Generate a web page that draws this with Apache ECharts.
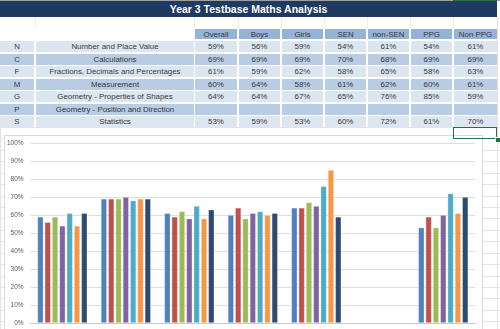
<!DOCTYPE html>
<html><head><meta charset="utf-8">
<script src="https://cdn.jsdelivr.net/npm/echarts@6/dist/echarts.min.js"></script>
<style>
html,body{margin:0;padding:0;width:500px;height:329px;overflow:hidden;background:#fff;font-family:"Liberation Sans",Arial,sans-serif;}
.abs{position:absolute;}
.cell{position:absolute;display:flex;align-items:center;justify-content:center;font-size:7.9px;color:#383838;white-space:nowrap;}
#title{position:absolute;left:0;top:1px;width:497px;height:16px;background:#1f3a60;color:#fff;font-weight:bold;font-size:10.5px;display:flex;align-items:center;justify-content:center;}
#bggrid{position:absolute;left:0;top:127px;width:500px;height:202px;
 background-image:repeating-linear-gradient(to bottom,#e3e3e3 0,#e3e3e3 1px,transparent 1px,transparent 11.43px);}
#chart{position:absolute;left:4px;top:135px;width:479px;height:194px;background:#fff;}
#chartBorder{position:absolute;left:4px;top:135px;width:479px;height:200px;border:1px solid #d9d9d9;box-sizing:border-box;pointer-events:none;}
</style></head>
<body>
<div class="abs" style="left:0;top:0;width:500px;height:1px;background:#a0a0a0"></div>
<div class="abs" style="left:453px;top:0;width:44px;height:1px;background:#217346"></div>
<div id="title">Year 3 Testbase Maths Analysis</div>
<div id="bggrid"></div>
<div class="abs" style="left:497px;top:17px;width:1px;height:312px;background:#e3e3e3"></div>
<div class="abs" style="left:0px;top:127px;width:1px;height:202px;background:#e3e3e3"></div>
<div id="sheet"></div>
<div id="chart"></div>
<div id="chartBorder"></div>
<div class="abs" style="left:453px;top:127px;width:44px;height:12px;border:1.5px solid #217346;box-sizing:border-box;"></div>
<div class="abs" style="left:495px;top:137px;width:4px;height:4px;background:#217346;border:1px solid #fff;box-sizing:content-box"></div>
<script>
// ---- data ----
const codes = ['N','C','F','M','G','P','S'];
const areas = ['Number and Place Value','Calculations','Fractions, Decimals and Percentages','Measurement','Geometry - Properties of Shapes','Geometry - Position and Direction','Statistics'];
const groups = ['Overall','Boys','Girls','SEN','non-SEN','PPG','Non PPG'];
const overall = [59,69,61,60,64,null,53];
const boys    = [56,69,59,64,64,null,59];
const girls   = [59,69,62,58,67,null,53];
const sen     = [54,70,58,61,65,null,60];
const nonSen  = [61,68,65,62,76,null,72];
const ppg     = [54,69,58,60,85,null,61];
const nonPpg  = [61,69,63,61,59,null,70];
const yTicks  = [0,10,20,30,40,50,60,70,80,90,100];

const seriesData = [overall,boys,girls,sen,nonSen,ppg,nonPpg];
const colors = ['#4f81bd','#c0504d','#9bbb59','#8064a2','#4bacc6','#f79646','#2c4a72'];

// ---- table ----
const sheet = document.getElementById('sheet');
function cell(x,y,w,h,bg,txt){
  const d=document.createElement('div');d.className='cell';
  d.style.left=x+'px';d.style.top=y+'px';d.style.width=w+'px';d.style.height=h+'px';
  d.style.background=bg;d.textContent=txt;sheet.appendChild(d);
}
const colL=[195,239,282,325,368,411,454];
const colW=[42,41,41,41,41,41,43];
[35,194,238,281,324,367,410,453].forEach(x=>{
  const d=document.createElement('div');d.className='abs';
  d.style.cssText='left:'+x+'px;top:17px;width:1px;height:11px;background:#ececec';sheet.appendChild(d);
});
groups.forEach((g,i)=>cell(colL[i],29,colW[i],10,'#95b3d7',g));
const rowTops=[41,53.5,66,78.5,91,103.5,116];
codes.forEach((c,r)=>{
  const bg = r%2===0 ? '#dce6f1' : '#b8cce4';
  const y=rowTops[r], h=11;
  cell(0,y,34,h,bg,c);
  cell(36,y,158,h,bg,areas[r]);
  seriesData.forEach((arr,i)=>cell(colL[i],y,colW[i],h,bg,arr[r]==null?'':arr[r]+'%'));
});

// ---- chart ----
const chart = echarts.init(document.getElementById('chart'),null,{renderer:'canvas'});
chart.setOption({
  animation:false,
  grid:{left:26,right:8,top:8,bottom:6,containLabel:false},
  xAxis:{type:'category',data:codes,
    axisLine:{lineStyle:{color:'#c8c8c8'}},axisTick:{show:false},axisLabel:{show:false},splitLine:{show:false}},
  yAxis:{type:'value',min:0,max:100,interval:10,
    axisLine:{show:false},axisTick:{show:false},
    axisLabel:{formatter:v=>yTicks.includes(v)?v+'%':'',fontSize:6.5,color:'#595959',margin:7,fontFamily:'Liberation Sans'},
    splitLine:{lineStyle:{color:'#dedede',width:1}}},
  series: seriesData.map((arr,i)=>({
    type:'bar',name:groups[i],data:arr,barWidth:6,barGap:'22%',
    itemStyle:{color:colors[i],borderColor:'rgba(255,255,255,0.55)',borderWidth:0.6}
  }))
});
</script>
</body></html>
